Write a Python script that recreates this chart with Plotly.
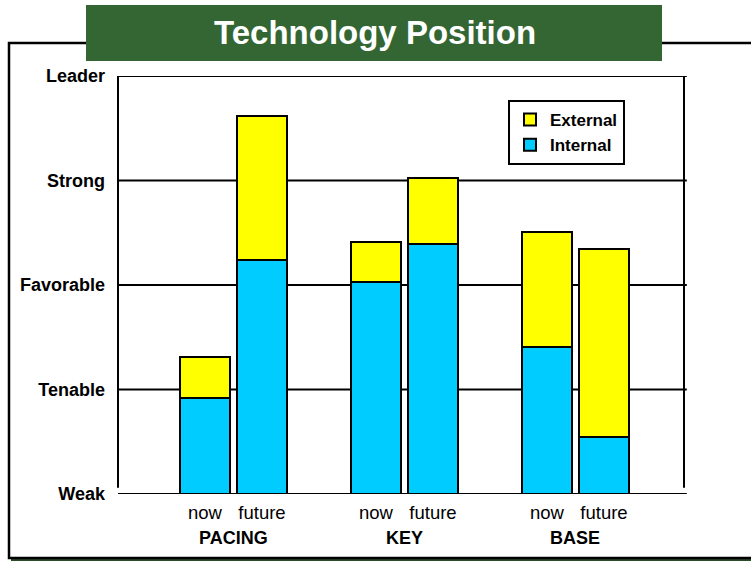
import plotly.graph_objects as go

# ---- data ----
groups = ["PACING", "KEY", "BASE"]
bar_labels = ["now", "future", "now", "future", "now", "future"]
bar_pos = [0, 1, 3, 4, 6, 7]
internal = [0.92, 2.24, 2.03, 2.39, 1.41, 0.55]
external = [0.39, 1.38, 0.38, 0.63, 1.10, 1.79]
level_vals = [0, 1, 2, 3, 4]
level_text = ["Weak", "Tenable", "Favorable", "Strong", "Leader"]

W, H = 751, 562
ML, MR, MT, MB = 118, 67, 76, 68
PW, PH = W - ML - MR, H - MT - MB


def px(x):
    return (x - ML) / PW


def py(y):
    return (H - MB - y) / PH


FONT = "Liberation Sans, Arial, sans-serif"

fig = go.Figure()
fig.add_trace(go.Bar(x=bar_pos, y=internal, name="Internal", width=0.88,
                     marker=dict(color="#00CCFF", line=dict(color="black", width=2))))
fig.add_trace(go.Bar(x=bar_pos, y=external, name="External", width=0.88,
                     marker=dict(color="#FFFF00", line=dict(color="black", width=2))))

shapes = []
# frame + shadow
shapes.append(dict(type="line", xref="paper", yref="paper", x0=px(11), x1=px(770),
                   y0=py(560), y1=py(560), line=dict(color="#2d4a2d", width=2), layer="below"))
shapes.append(dict(type="rect", xref="paper", yref="paper", x0=px(9), x1=px(770),
                   y0=py(558), y1=py(43), line=dict(color="black", width=2.5),
                   fillcolor="rgba(0,0,0,0)", layer="below"))
# title box
shapes.append(dict(type="rect", xref="paper", yref="paper", x0=px(86), x1=px(662),
                   y0=py(61), y1=py(5), line=dict(width=0), fillcolor="#336633", layer="below"))
# horizontal level lines
for v in level_vals:
    shapes.append(dict(type="line", xref="paper", yref="y", x0=0, x1=1.005, y0=v, y1=v,
                       line=dict(color="black", width=2), layer="below"))
# vertical plot edges
for xp in (0, 1):
    shapes.append(dict(type="line", xref="paper", yref="y", x0=xp, x1=xp, y0=0.06, y1=4,
                       line=dict(color="black", width=2), layer="below"))

annotations = [dict(text="<b>Technology Position</b>", xref="paper", yref="paper",
                    x=px(375), y=py(33), showarrow=False,
                    font=dict(family=FONT, size=33, color="white"),
                    xanchor="center", yanchor="middle")]
for i, g in enumerate(groups):
    xc = (bar_pos[2 * i] + bar_pos[2 * i + 1]) / 2
    annotations.append(dict(text="<b>" + g + "</b>", x=xc, xref="x", yref="paper",
                            y=py(538), showarrow=False, xanchor="center", yanchor="middle",
                            font=dict(family=FONT, size=18, color="black")))

fig.update_layout(
    width=W, height=H,
    margin=dict(l=ML, r=MR, t=MT, b=MB, pad=0),
    paper_bgcolor="white", plot_bgcolor="white",
    barmode="stack",
    showlegend=True,
    legend=dict(x=px(508), y=py(100), xanchor="left", yanchor="top",
                bordercolor="black", borderwidth=2, bgcolor="white",
                traceorder="reversed",
                font=dict(family=FONT, size=17, color="black", weight="bold"),
                itemwidth=30, tracegroupgap=0),
    shapes=shapes,
    annotations=annotations,
    font=dict(family=FONT, color="black"),
    xaxis=dict(range=[-1.526, 8.404], tickvals=bar_pos, ticktext=bar_labels,
               showgrid=False, zeroline=False, showline=False, ticks="",
               tickfont=dict(family=FONT, size=18.5, color="black"), ticklabelstandoff=5),
    yaxis=dict(range=[0, 4], tickvals=level_vals, ticktext=level_text,
               showgrid=False, zeroline=False, showline=False, ticks="",
               tickfont=dict(family=FONT, size=18, color="black", weight="bold"),
               ticklabelstandoff=12),
)

fig.write_html("out.html")
